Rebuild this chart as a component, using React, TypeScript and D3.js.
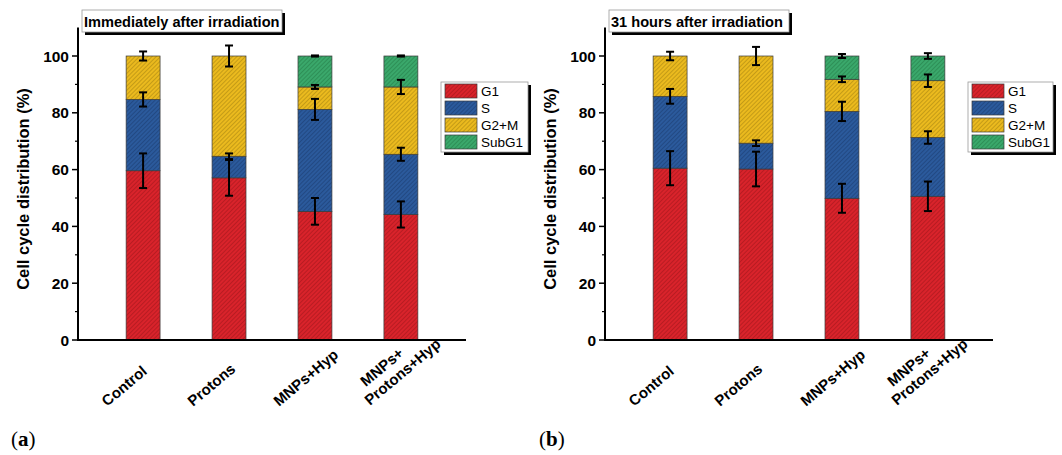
import React from "react";
import * as d3 from "d3";

const categories = ["Control", "Protons", "MNPs+Hyp", "MNPs+|Protons+Hyp"];
const phases = ["G1", "S", "G2+M", "SubG1"];
const phaseColors = ["#d9232b", "#2b5a9c", "#ebba1e", "#3aa86b"];
const hatchColors = ["#a3171d", "#1d3e72", "#ad8812", "#25804b"];

// Panel (a): immediately after irradiation
const g1A = [59.6, 57.1, 45.3, 44.2];
const sA = [25.1, 7.6, 35.9, 21.2];
const g2mA = [15.3, 35.3, 7.9, 23.7];
const subA = [0, 0, 10.9, 10.9];
const g1ErrA = [6.1, 6.3, 4.7, 4.6];
const sErrA = [2.5, 1.0, 3.7, 2.3];
const g2mErrA = [1.6, 3.7, 0.7, 2.5];
const subErrA = [0, 0, 0.2, 0.2];

// Panel (b): 31 hours after irradiation
const g1B = [60.5, 60.2, 49.9, 50.6];
const sB = [25.3, 9.1, 30.6, 20.7];
const g2mB = [14.2, 30.7, 11.3, 20.0];
const subB = [0, 0, 8.2, 8.7];
const g1ErrB = [6.0, 6.1, 5.1, 5.2];
const sErrB = [2.6, 1.0, 3.4, 2.2];
const g2mErrB = [1.5, 3.2, 1.0, 2.2];
const subErrB = [0, 0, 0.7, 1.0];

const majorTicks = [0, 20, 40, 60, 80, 100];
const minorTicks = [10, 30, 50, 70, 90];

const FONT = "Arial, 'Liberation Sans', sans-serif";

function Panel({ axisX, axisEnd, title, titleW, series, errs, legendX, legendW, label, labelX }) {
  const y = d3.scaleLinear().domain([0, 110]).range([340, 27.6]);
  const x = d3.scaleBand().domain(categories).range([axisX, axisEnd]).paddingInner(0.605).paddingOuter(0.56);
  const rows = categories.map((c, i) => {
    const r = { cat: c };
    phases.forEach((p, k) => (r[p] = series[k][i]));
    return r;
  });
  const stacked = d3.stack().keys(phases)(rows);
  const bw = x.bandwidth();
  return (
    <g>
      {stacked.map((layer, k) => (
        <g key={k}>
          {layer.map((d, i) =>
            d[1] - d[0] > 0 ? (
              <rect
                key={i}
                x={x(categories[i])}
                y={y(d[1])}
                width={bw}
                height={y(d[0]) - y(d[1])}
                fill={`url(#hatch${k})`}
                stroke="#3a3a3a"
                strokeWidth={0.7}
              />
            ) : null
          )}
        </g>
      ))}
      {stacked.map((layer, k) =>
        layer.map((d, i) => {
          const e = errs[k][i];
          if (!(d[1] - d[0] > 0) || e === 0) return null;
          const cx = x(categories[i]) + bw / 2;
          const y1 = y(d[1] + e);
          const y2 = y(d[1] - e);
          return (
            <g key={`e${k}-${i}`} stroke="#000" strokeWidth={2}>
              <line x1={cx} x2={cx} y1={y1} y2={y2} />
              <line x1={cx - 4} x2={cx + 4} y1={y1} y2={y1} />
              <line x1={cx - 4} x2={cx + 4} y1={y2} y2={y2} />
            </g>
          );
        })
      )}
      <line x1={axisX} x2={axisX} y1={y(110)} y2={y(0) + 1} stroke="#000" strokeWidth={2} />
      <line x1={axisX - 1} x2={axisEnd} y1={y(0)} y2={y(0)} stroke="#000" strokeWidth={2} />
      {majorTicks.map((t) => (
        <g key={t}>
          <line x1={axisX - 6} x2={axisX} y1={y(t)} y2={y(t)} stroke="#000" strokeWidth={1.5} />
          <text x={axisX - 9} y={y(t)} dy="0.36em" textAnchor="end" fontFamily={FONT} fontWeight="bold" fontSize={15.5}>
            {t}
          </text>
        </g>
      ))}
      {minorTicks.map((t) => (
        <line key={t} x1={axisX - 3} x2={axisX} y1={y(t)} y2={y(t)} stroke="#000" strokeWidth={1.2} />
      ))}
      <text
        transform={`translate(${axisX - 49},${189}) rotate(-90)`}
        textAnchor="middle"
        fontFamily={FONT}
        fontWeight="bold"
        fontSize={16.5}
      >
        Cell cycle distribution (%)
      </text>
      {categories.map((c, i) => {
        const cx = x(c) + bw / 2;
        const lines = c.split("|");
        if (lines.length === 1) {
          return (
            <text
              key={c}
              transform={`translate(${cx - 36},${407}) rotate(-40)`}
              fontFamily={FONT}
              fontWeight="bold"
              fontSize={15}
            >
              {c}
            </text>
          );
        }
        return (
          <g key={c} transform={`translate(${cx - 31},${406}) rotate(-40)`}>
            <text x={9} y={-17} fontFamily={FONT} fontWeight="bold" fontSize={15}>
              {lines[0]}
            </text>
            <text x={0} y={0} fontFamily={FONT} fontWeight="bold" fontSize={15}>
              {lines[1]}
            </text>
          </g>
        );
      })}
      <rect x={axisX + 7} y={13} width={titleW} height={22} fill="#000" />
      <rect x={axisX + 4} y={10} width={titleW} height={22} fill="#fff" stroke="#999" strokeWidth={0.8} />
      <text x={axisX + 6} y={26.5} fontFamily={FONT} fontWeight="bold" fontSize={14.6}>
        {title}
      </text>
      <rect x={legendX + 3} y={85} width={legendW} height={70} fill="#000" />
      <rect x={legendX} y={82} width={legendW} height={70} fill="#fff" stroke="#999" strokeWidth={0.8} />
      {phases.map((p, k) => (
        <g key={p}>
          <rect
            x={legendX + 4}
            y={84 + k * 17}
            width={32}
            height={14}
            fill={`url(#hatch${k})`}
            stroke="#3a3a3a"
            strokeWidth={0.7}
          />
          <text x={legendX + 40} y={91 + k * 17} dy="0.36em" fontFamily={FONT} fontSize={13.5}>
            {p}
          </text>
        </g>
      ))}
      <text x={labelX} y={446} fontFamily="'Liberation Serif', 'Times New Roman', serif" fontSize={21}>
        (<tspan fontWeight="bold">{label}</tspan>)
      </text>
    </g>
  );
}

export default function App() {
  return (
    <svg width={1062} height={455} style={{ position: "absolute", left: 0, top: 0, background: "#fff" }}>
      <defs>
        {phaseColors.map((c, k) => (
          <pattern
            key={k}
            id={`hatch${k}`}
            patternUnits="userSpaceOnUse"
            width={3}
            height={3}
            patternTransform="rotate(45)"
          >
            <rect width={3} height={3} fill={c} />
            <line x1={0.4} y1={0} x2={0.4} y2={3} stroke={hatchColors[k]} strokeWidth={0.7} />
          </pattern>
        ))}
      </defs>
      <rect width={1062} height={455} fill="#fff" />
      <Panel
        axisX={78}
        axisEnd={466}
        title="Immediately after irradiation"
        titleW={200}
        series={[g1A, sA, g2mA, subA]}
        errs={[g1ErrA, sErrA, g2mErrA, subErrA]}
        legendX={441}
        legendW={87}
        label="a"
        labelX={11}
      />
      <Panel
        axisX={605}
        axisEnd={993}
        title="31 hours after irradiation"
        titleW={180}
        series={[g1B, sB, g2mB, subB]}
        errs={[g1ErrB, sErrB, g2mErrB, subErrB]}
        legendX={968}
        legendW={85}
        label="b"
        labelX={539}
      />
    </svg>
  );
}
